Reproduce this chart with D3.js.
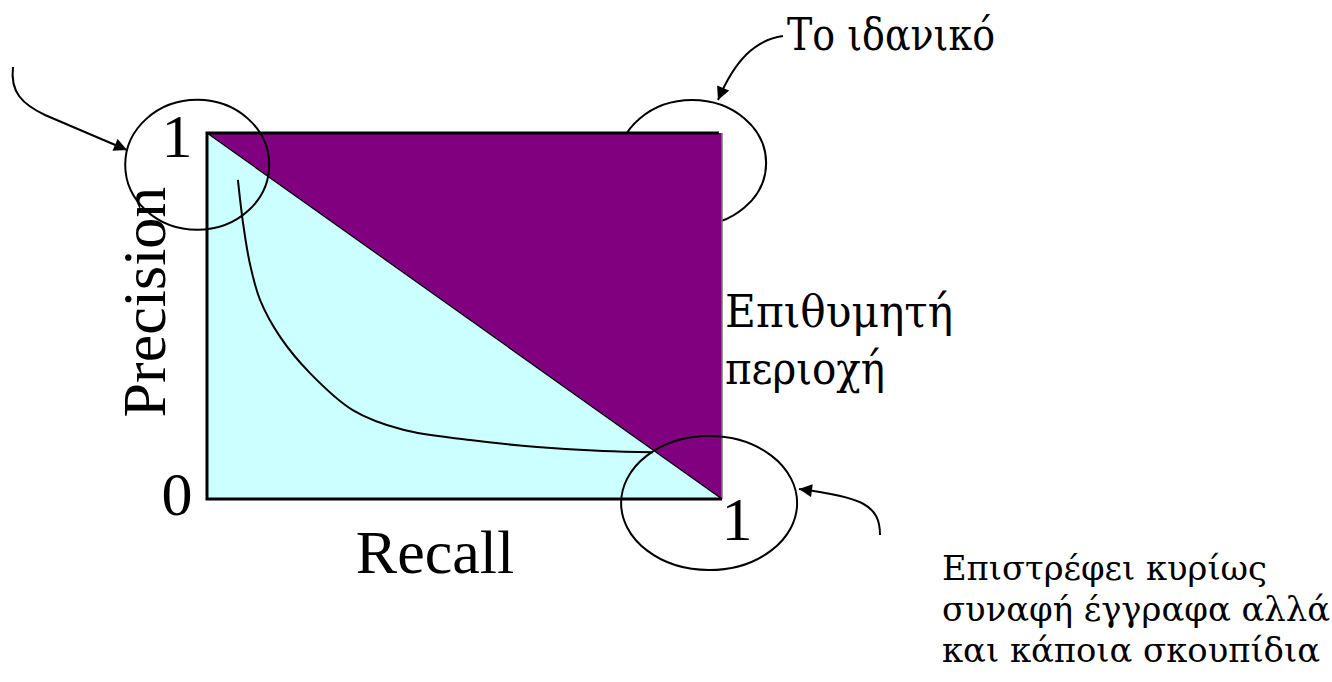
<!DOCTYPE html>
<html><head><meta charset="utf-8">
<script src="https://cdn.jsdelivr.net/npm/d3@7"></script>
<style>html,body{margin:0;padding:0;background:#fff;}svg{display:block;}</style>
</head><body><svg id="c" width="1332" height="682"></svg>
<script>
// ---- data ----
const recall    = [0.060, 0.070, 0.083, 0.103, 0.142, 0.200, 0.283, 0.381, 0.511, 0.641, 0.769, 0.866];
const precision = [0.872, 0.754, 0.645, 0.544, 0.443, 0.344, 0.243, 0.189, 0.161, 0.142, 0.131, 0.128];
const tickLabels = ["0", "1"];
const axisTitles = ["Recall", "Precision"];
const idealLabel = "Το ιδανικό";
const regionLabel = ["Επιθυμητή", "περιοχή"];
const noteLabel = ["Επιστρέφει κυρίως", "συναφή έγγραφα αλλά", "και κάποια σκουπίδια"];
// corners of the areas in (recall, precision)
const lowerArea = [[0,1],[1,0],[0,0]];
const upperArea = [[0,1],[1,1],[1,0]];
// circled corners (recall, precision)
const circled = [[-0.019, 0.913], [0.942, 0.918], [0.975, -0.011]];

// ---- layout ----
const svg = d3.select("#c");
const x = d3.scaleLinear().domain([0,1]).range([207,722]);
const y = d3.scaleLinear().domain([0,1]).range([499,133]);
const font = "'Liberation Serif','Times New Roman',serif";
const gfont = "'DejaVu Serif Condensed','DejaVu Serif',serif";

const defs = svg.append("defs");
defs.append("marker").attr("id","ah").attr("viewBox","0 0 10 10").attr("refX",10).attr("refY",5)
  .attr("markerWidth",7.5).attr("markerHeight",6.5).attr("markerUnits","strokeWidth").attr("orient","auto")
  .append("path").attr("d","M0,0 L10,5 L0,10 z").attr("fill","#000");

const line = d3.line().x(d=>x(d[0])).y(d=>y(d[1]));

// ellipse behind the upper-right corner
const rx = [72, 74, 88], ry = [65, 63, 67];
svg.append("ellipse").attr("cx",x(circled[1][0])).attr("cy",y(circled[1][1]))
  .attr("rx",rx[1]).attr("ry",ry[1]).attr("fill","none").attr("stroke","#000").attr("stroke-width",2);

svg.append("path").attr("d", line(lowerArea)+"Z").attr("fill","#CCFFFF");
svg.append("path").attr("d", line(upperArea)+"Z").attr("fill","#800080");
svg.append("path").attr("d", line([[0,1],[1,0]])).attr("stroke","#000").attr("stroke-width",1.2).attr("fill","none");
svg.append("line").attr("x1",x(1)).attr("x2",x(1)).attr("y1",y(1)).attr("y2",y(0)).attr("stroke","#777").attr("stroke-width",1.5);
svg.append("path").attr("d", line([[0.994,1],[0,1],[0,0],[1,0]]))
  .attr("fill","none").attr("stroke","#000").attr("stroke-width",3);

// curve
svg.append("path").datum(recall.map((r,i)=>[r,precision[i]]))
  .attr("d", d3.line().x(d=>x(d[0])).y(d=>y(d[1])).curve(d3.curveCatmullRom.alpha(0.5)))
  .attr("fill","none").attr("stroke","#000").attr("stroke-width",2);

[0,2].forEach(i=>{
  svg.append("ellipse").attr("cx",x(circled[i][0])).attr("cy",y(circled[i][1]))
    .attr("rx",rx[i]).attr("ry",ry[i]).attr("fill","none").attr("stroke","#000").attr("stroke-width",2);
});

// tick labels
const T = svg.append("g").attr("font-family",font).attr("fill","#000");
T.append("text").attr("x",x(0)-30).attr("y",y(0)+16).attr("font-size",62).attr("text-anchor","middle").text(tickLabels[0]);
T.append("text").attr("x",x(0)-30).attr("y",y(1)+24).attr("font-size",62).attr("text-anchor","middle").text(tickLabels[1]);
T.append("text").attr("x",x(1)+15).attr("y",y(0)+41).attr("font-size",62).attr("text-anchor","middle").text(tickLabels[1]);
T.append("text").attr("x",435).attr("y",573).attr("font-size",62).attr("text-anchor","middle").text(axisTitles[0]);
T.append("text").attr("transform","translate(165,302) rotate(-90)").attr("font-size",62).attr("text-anchor","middle").text(axisTitles[1]);

// annotations (Greek)
const G = svg.append("g").attr("font-family",gfont).attr("fill","#000");
G.append("text").attr("x",787).attr("y",50).attr("font-size",44)
  .attr("textLength",208).attr("lengthAdjust","spacingAndGlyphs").text(idealLabel);
const rl = [228, 160];
regionLabel.forEach((s,i)=>G.append("text").attr("x",725).attr("y",327+i*57).attr("font-size",44)
  .attr("textLength",rl[i]).attr("lengthAdjust","spacingAndGlyphs").text(s));
const nl = [325, 388, 378];
noteLabel.forEach((s,i)=>G.append("text").attr("x",942).attr("y",580+i*41).attr("font-size",34)
  .attr("textLength",nl[i]).attr("lengthAdjust","spacingAndGlyphs").text(s));

// arrows
const A = svg.append("g").attr("fill","none").attr("stroke","#000").attr("stroke-width",2);
A.append("path").attr("d","M13,67 C10,92 22,104 45,115 L127,150").attr("marker-end","url(#ah)");
A.append("path").attr("d","M783,36 C755,40 735,60 718,100").attr("marker-end","url(#ah)");
A.append("path").attr("d","M880,535 C880,505 862,497 799,489").attr("marker-end","url(#ah)");
</script></body></html>
